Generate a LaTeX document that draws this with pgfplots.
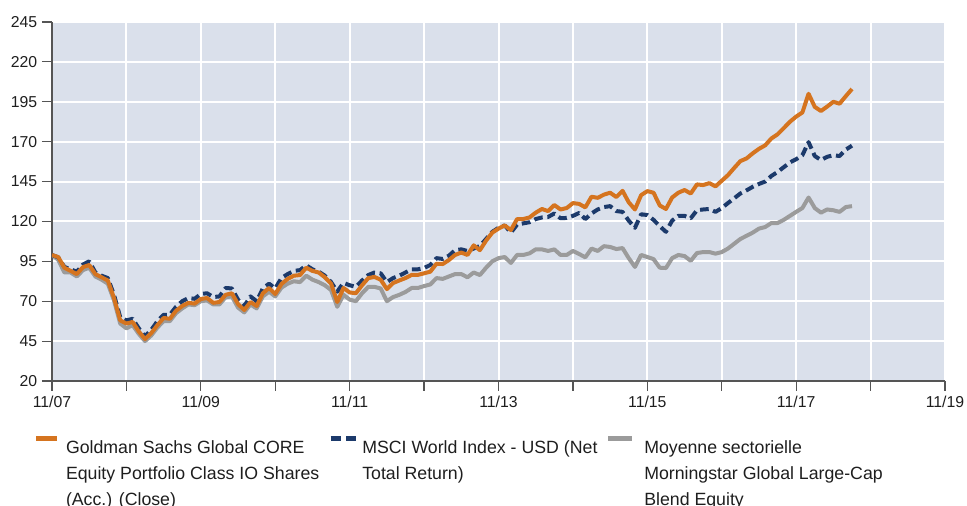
\documentclass[border=0pt]{standalone}
\usepackage{fontspec}
\setmainfont{Liberation Sans}
\usepackage{pgfplots}
\pgfplotsset{compat=1.18}
\usepackage{pgfplotstable}
\definecolor{bgc}{RGB}{218,224,235}
\definecolor{gsor}{RGB}{213,116,31}
\definecolor{msnavy}{RGB}{28,58,107}
\definecolor{catgr}{RGB}{155,155,155}
\definecolor{axc}{RGB}{85,85,85}
\definecolor{txt}{RGB}{30,30,30}

\pgfplotstableread{
m gs msci cat
0 99 99 99
1 97.7 97.5 96
2 91 91.5 88
3 89 90 88
4 87 88.5 85.5
5 91.4 93 89.5
6 92.7 95 91
7 87 88 85.5
8 85 86 83.5
9 83 84.5 81
10 72 74 70.5
11 58 60 56
12 56 58 53
13 57 59 55
14 51 53 49.5
15 46.3 48 45
16 50 52 48.5
17 55 57.5 53.5
18 59.5 61.5 57.5
19 59 61.5 57.5
20 64 66.5 62.5
21 67 70 65.5
22 69 72 68
23 68.5 71.5 67.5
24 71.4 74.5 70
25 72 75 70.5
26 69 72.6 68
27 69.5 73 68
28 74 78.3 72.5
29 75 78 73
30 68.2 71 66
31 64.5 67 63
32 69.5 73 68
33 67 70 65.5
34 75 78 73
35 78.3 81 76
36 74.5 78 73
37 80.8 84.5 78.5
38 84 87 81
39 86 89 82.5
40 86.4 89.5 82
41 91 92.5 86
42 89 90 83.5
43 88 88.5 82
44 85 86 80
45 81 82 77
46 69.5 76 66.5
47 78.3 81.5 74
48 75.5 80 71
49 75 79 70
50 80 83 75
51 84.5 86.4 79
52 85.2 88 79
53 83.5 87.5 78
54 77.6 82 70
55 81.4 84.5 72.6
56 83 86 74
57 84.5 88 75.8
58 86.5 90 78.3
59 86.5 90 78.3
60 87.5 90.8 79.5
61 88.5 92.7 80.5
62 93.5 97 84.5
63 93.3 96.5 84
64 95.8 98.5 85.5
65 99 102 87
66 100.5 102.5 87
67 99 101.5 85
68 105 103 88
69 102 104.6 86.4
70 108 109 91
71 113 113.5 95
72 115.5 116 97
73 117.5 117.5 97.7
74 114.6 113 94
75 121.5 118 99
76 121.5 118.8 99
77 122.5 119.5 100
78 125.5 121.5 102.5
79 127.8 122.5 102.5
80 126.5 122.8 101.5
81 130.3 125 102.5
82 127.5 122 99
83 128.4 122.2 99
84 131.5 123.5 101.5
85 131 125.3 99.6
86 128.8 121.5 97.5
87 135.5 125 103
88 134.8 127.5 101.5
89 136.8 129 104.5
90 138 129.6 104
91 135.3 126.5 102.7
92 139.2 126 103.3
93 132 120.5 97
94 127.5 116 91.5
95 136.5 124.5 99
96 139 124 97.7
97 138 121 96.4
98 130 117 91
99 127.8 113.5 90.8
100 135 120.5 97
101 138 123.5 99
102 139.7 123.5 98.3
103 137.5 122 95.3
104 143.2 127 100.2
105 142.8 127.5 100.8
106 144 127.8 100.8
107 142 126 99.8
108 145.5 128.4 100.8
109 149 131.5 103
110 153.5 134.5 106
111 157.8 137.5 109
112 159.5 139.5 111
113 162.7 141.7 113
114 165.5 143.5 115.5
115 167.7 145 116.5
116 172 148.5 119
117 174.6 151 119
118 178.5 154 121
119 182.5 157 123.5
120 185.7 159 126
121 188.3 161.5 128.4
122 200 169.7 135
123 191.8 161 128.4
124 189.2 158.5 125.5
125 192 160.5 127.5
126 195 161.5 127
127 193.8 161 126
128 198.5 165 129
129 203 167.5 129.6
}\data

\begin{document}
\begin{tikzpicture}
\begin{axis}[
  at={(39pt,93.75pt)}, anchor=south west,
  width=669.75pt, height=269.25pt, scale only axis,
  xmin=0, xmax=144, ymin=20, ymax=245,
  xtick={0,12,...,144},
  xticklabels={11/07,,11/09,,11/11,,11/13,,11/15,,11/17,,11/19},
  ytick={20,45,...,245},
  axis x line*=bottom, axis y line*=left,
  axis line style={draw=axc, line width=1.1pt},
  tick align=outside, major tick length=7.5pt,
  tick style={draw=axc, line width=0.9pt},
  grid=major, major grid style={draw=white, line width=1.5pt},
  axis background/.style={fill=bgc},
  ticklabel style={font=\fontsize{11.85}{14}\selectfont, text=txt},
  /pgf/number format/assume math mode=true,
  every axis plot/.append style={line width=3pt, line join=round, no markers},
]
\addplot[catgr] table[x=m, y=cat] {\data};
\addplot[msnavy, dash pattern=on 6.5pt off 3.5pt] table[x=m, y=msci] {\data};
\addplot[gsor] table[x=m, y=gs] {\data};
\end{axis}

\begin{scope}[every node/.style={anchor=base west, inner sep=0pt, font=\fontsize{13.3}{19.9}\selectfont, text=txt}]
\draw[gsor, line width=3.5pt] (27pt,50.8pt) -- (42.75pt,50.8pt);
\node at (49.3pt,39pt) {Goldman Sachs Global CORE};
\node at (49.3pt,19.5pt) {Equity Portfolio Class IO Shares};
\node at (49.3pt,0pt) {(Acc.) (Close)};
\draw[msnavy, line width=3.5pt] (248pt,50.8pt) -- (256pt,50.8pt);
\draw[msnavy, line width=3.5pt] (259.5pt,50.8pt) -- (267pt,50.8pt);
\node at (271.5pt,39pt) {MSCI World Index - USD (Net};
\node at (271.5pt,19.5pt) {Total Return)};
\draw[catgr, line width=3.5pt] (456pt,50.8pt) -- (474pt,50.8pt);
\node at (483pt,39pt) {Moyenne sectorielle};
\node at (483pt,19.5pt) {Morningstar Global Large-Cap};
\node at (483pt,0pt) {Blend Equity};
\end{scope}
\pgfresetboundingbox
\useasboundingbox (0,0) rectangle (725.25pt,379.5pt);
\end{tikzpicture}
\end{document}
